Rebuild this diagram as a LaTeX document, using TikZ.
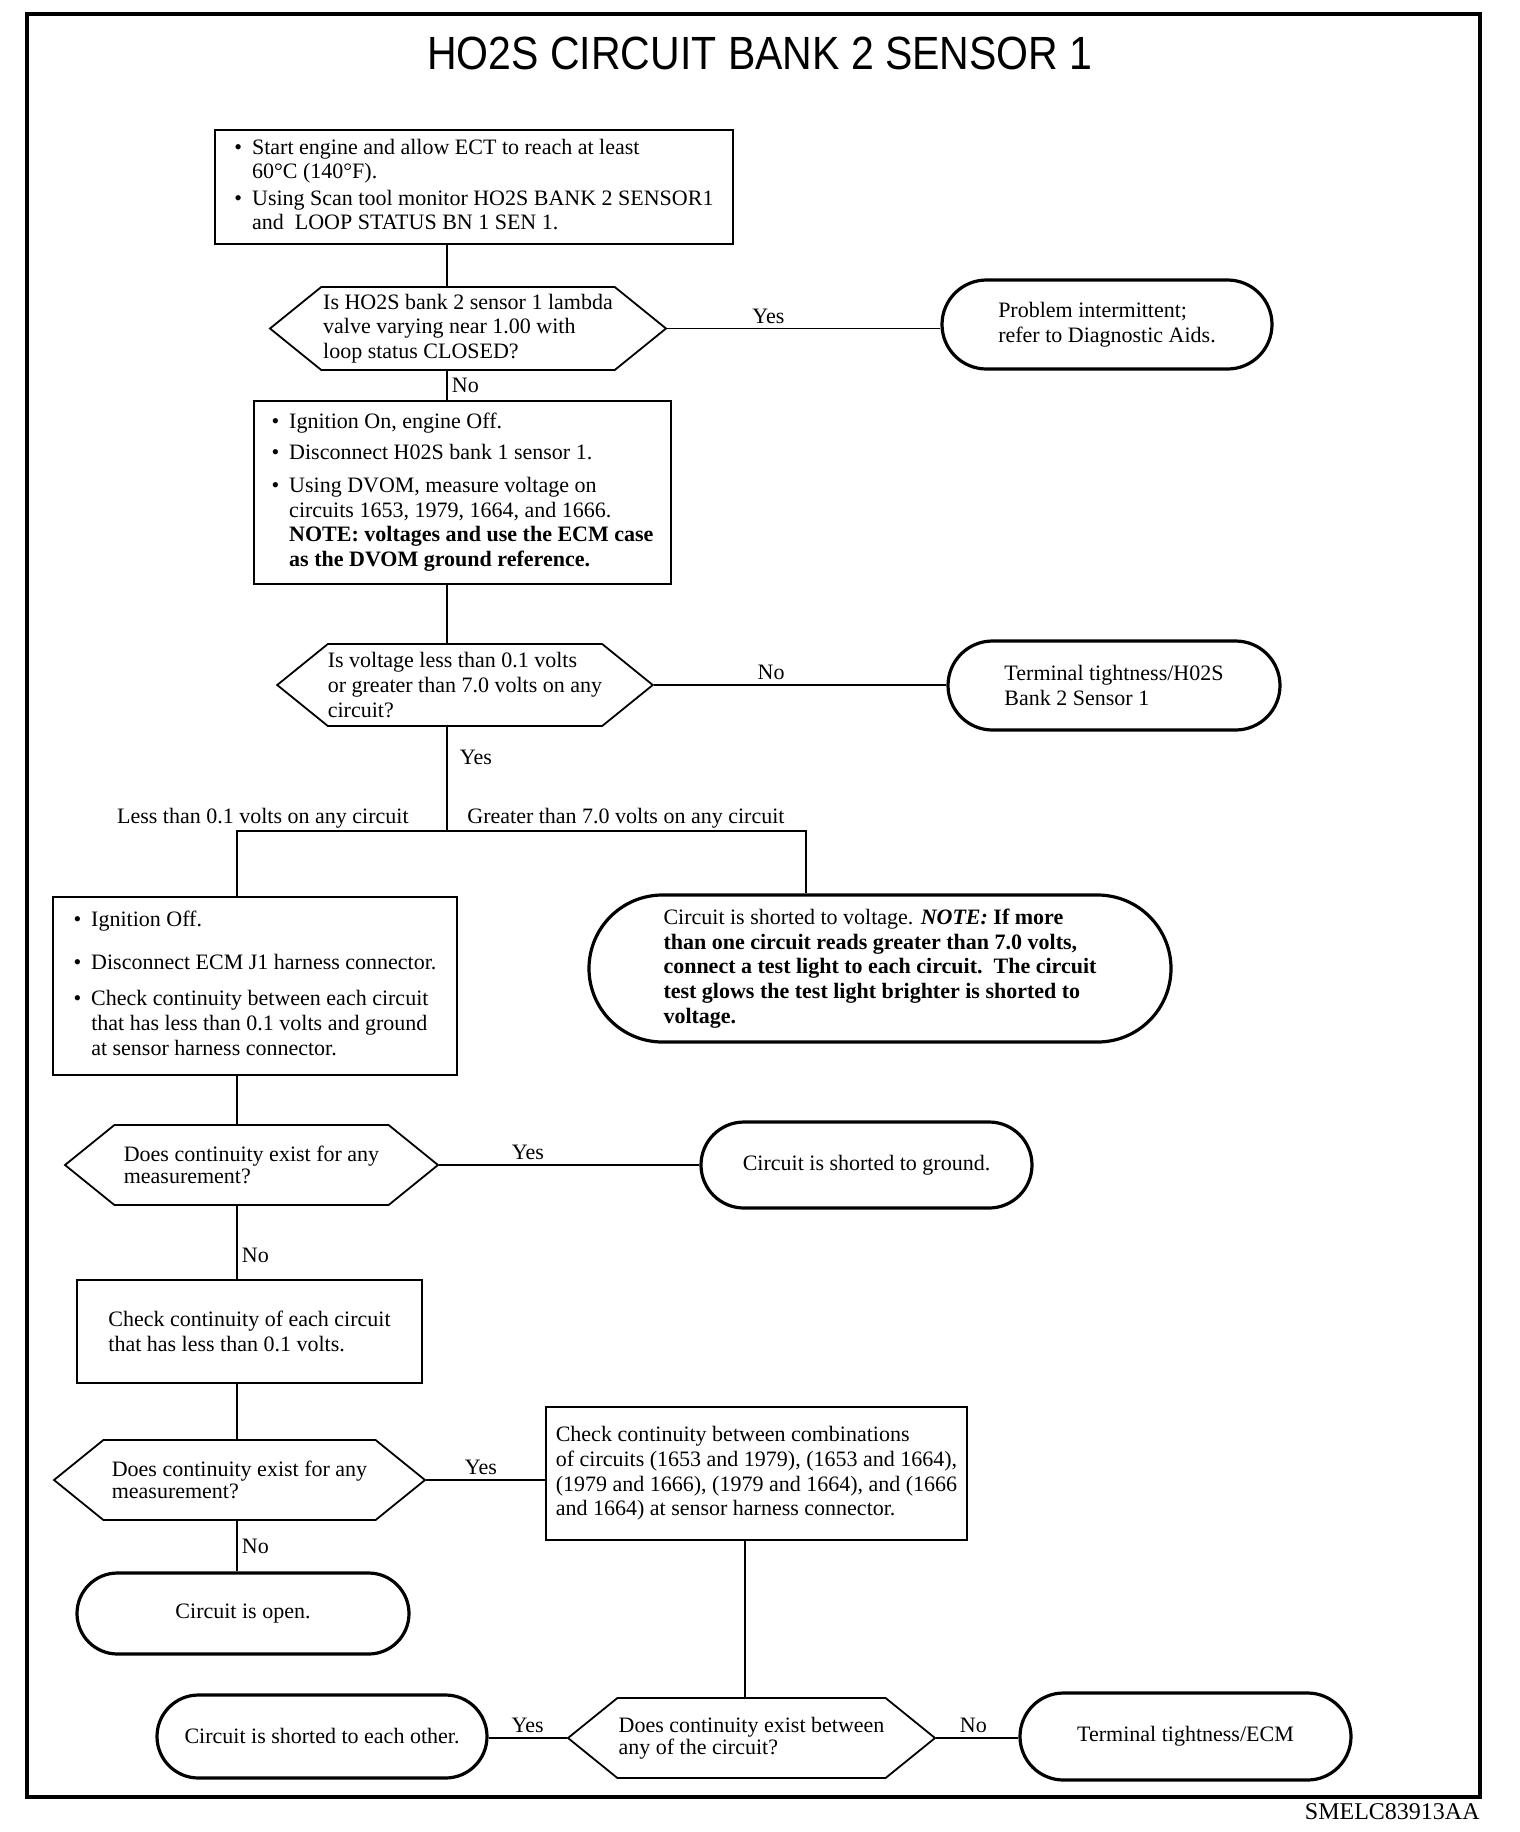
\documentclass[tikz,border=0pt]{standalone}
\usepackage{fontspec}
\setmainfont{Liberation Serif}
\newfontfamily\titlefont[FakeStretch=0.88]{Liberation Sans}
\usetikzlibrary{shapes.symbols,shapes.misc}

% bullet list inside a box
\newcommand{\blist}[1]{\begin{tabular}{@{}l@{\hspace{5pt}}l@{}}#1\end{tabular}}

\tikzset{
  stepbox/.style={draw, line width=1pt, rectangle, align=left, inner sep=0pt},
  query/.style={draw, line width=0.9pt, signal, signal to=east and west, signal pointer angle=78, align=left, inner sep=0pt},
  outcome/.style={draw, line width=1.6pt, rounded rectangle, align=left, inner sep=0pt},
  link/.style={line width=0.9pt},
  lbl/.style={inner sep=2pt}
}

\begin{document}
\begin{tikzpicture}[x=0.5pt, y=-0.5pt, every node/.style={font=\fontsize{11}{12.3}\selectfont}]
        \useasboundingbox (0,0) rectangle (1520,1832);

        % Frame, title and code
        \draw[line width=2pt] (27,14) rectangle (1480,1797);
        \node[font=\titlefont\fontsize{23.3}{28}\selectfont] (title) at (760,53) {HO2S CIRCUIT BANK 2 SENSOR 1};
        \node[anchor=base east, inner sep=0pt, font=\fontsize{12}{14}\selectfont] (code) at (1480,1819) {SMELC83913AA};

        % Columns of the connectors
        \coordinate (colA) at (447,0);
        \coordinate (colB) at (237,0);
        \coordinate (colC) at (745,0);
        \coordinate (colD) at (806,0);
        \coordinate (split) at (447,831);

        % Steps
        \node[stepbox, minimum width=259pt, minimum height=57pt] (b1) at (474,187) {\blist{%
          \textbullet & Start engine and allow ECT to reach at least\\
                      & 60°C (140°F).\\[1pt]
          \textbullet & Using Scan tool monitor HO2S BANK 2 SENSOR1\\
                      & and\ \ LOOP STATUS BN 1 SEN 1.}};
        \node[stepbox, minimum width=208.5pt, minimum height=91.5pt] (b2) at (462.5,492.5) {\blist{%
          \textbullet & Ignition On, engine Off.\\[3pt]
          \textbullet & Disconnect H02S bank 1 sensor 1.\\[4.5pt]
          \textbullet & Using DVOM, measure voltage on\\
                      & circuits 1653, 1979, 1664, and 1666.\\
                      & \textbf{NOTE: voltages and use the ECM case}\\
                      & \textbf{as the DVOM ground reference.}}};
        \node[stepbox, minimum width=202pt, minimum height=89pt] (b3) at (255,986) {\blist{%
          \textbullet & Ignition Off.\\[9pt]
          \textbullet & Disconnect ECM J1 harness connector.\\[6pt]
          \textbullet & Check continuity between each circuit\\
                      & that has less than 0.1 volts and ground\\
                      & at sensor harness connector.}};
        \node[stepbox, minimum width=172.5pt, minimum height=51.5pt] (b4) at (249.5,1331.5) {Check continuity of each circuit\\that has less than 0.1 volts.};
        \node[stepbox, minimum width=210.5pt, minimum height=66.5pt] (b5) at (756.5,1473.5) {Check continuity between combinations\\of circuits (1653 and 1979), (1653 and 1664),\\(1979 and 1666), (1979 and 1664), and (1666\\and 1664) at sensor harness connector.};

        % Questions
        \node[query, minimum width=198pt, minimum height=41.5pt] (h1) at (468,328.5) {Is HO2S bank 2 sensor 1 lambda\\valve varying near 1.00 with\\loop status CLOSED?};
        \node[query, minimum width=186pt, minimum height=41pt] (h2) at (465,685) {Is voltage less than 0.1 volts\\or greater than 7.0 volts on any\\circuit?};
        \node[query, minimum width=186.5pt, minimum height=40pt] (h3) at (251.5,1165) {Does continuity exist for any\\[-1.5pt]measurement?};
        \node[query, minimum width=185.5pt, minimum height=40pt] (h4) at (239.5,1480) {Does continuity exist for any\\[-1.5pt]measurement?};
        \node[query, minimum width=183.5pt, minimum height=40pt] (h5) at (751.5,1738) {Does continuity exist between\\[-1.5pt]any of the circuit?};

        % Outcomes
        \node[outcome, minimum width=165pt, minimum height=44.5pt] (o1) at (1107,324.5) {Problem intermittent;\\refer to Diagnostic Aids.};
        \node[outcome, minimum width=166pt, minimum height=44.5pt] (o2) at (1114,685.5) {Terminal tightness/H02S\\Bank 2 Sensor 1};
        \node[outcome, minimum width=291pt, minimum height=73.5pt] (o3) at (880,968.5) {Circuit is shorted to voltage. \textbf{\textit{NOTE:} If more}\\
          \textbf{than one circuit reads greater than 7.0 volts,}\\
          \textbf{connect a test light to each circuit.\ \ The circuit}\\
          \textbf{test glows the test light brighter is shorted to}\\
          \textbf{voltage.}};
        \node[outcome, minimum width=165.5pt, minimum height=43pt] (o4) at (866.5,1165) {Circuit is shorted to ground.};
        \node[outcome, minimum width=166pt, minimum height=40.5pt] (o5) at (243,1613.5) {Circuit is open.};
        \node[outcome, minimum width=165pt, minimum height=41.5pt] (o6) at (322,1736.5) {Circuit is shorted to each other.};
        \node[outcome, minimum width=165.5pt, minimum height=43.5pt] (o7) at (1185.5,1736.5) {Terminal tightness/ECM};

        % Connectors
        \draw[link] (b1.south -| colA) -- (h1.north -| colA);
        \draw[link] (h1.east) -- (h1.east -| o1.west) node[lbl, above, pos=0.37] {Yes};
        \draw[link] (h1.south -| colA) -- (b2.north -| colA) node[lbl, right, midway] {No};
        \draw[link] (b2.south -| colA) -- (h2.north -| colA);
        \draw[link] (h2.east) -- (h2.east -| o2.west) node[lbl, above, pos=0.4] {No};
        \draw[link] (h2.south -| colA) -- (split) node[lbl, right, pos=0.29, xshift=4pt] {Yes};
        \draw[link] (b3.north -| colB) |- (split) -| (o3.north -| colD);
        \node[lbl, anchor=base east] (lessLbl) at (413,823) {Less than 0.1 volts on any circuit};
        \node[lbl, anchor=base west] (moreLbl) at (463,823) {Greater than 7.0 volts on any circuit};
        \draw[link] (b3.south -| colB) -- (h3.north -| colB);
        \draw[link] (h3.east) -- (h3.east -| o4.west) node[lbl, above, pos=0.34] {Yes};
        \draw[link] (h3.south -| colB) -- (b4.north -| colB) node[lbl, right, pos=0.68] {No};
        \draw[link] (b4.south -| colB) -- (h4.north -| colB);
        \draw[link] (h4.east) -- (h4.east -| b5.west) node[lbl, above, pos=0.46] {Yes};
        \draw[link] (h4.south -| colB) -- (o5.north -| colB) node[lbl, right, midway] {No};
        \draw[link] (b5.south -| colC) -- (h5.north -| colC);
        \draw[link] (h5.west) -- (h5.west -| o6.east) node[lbl, above, midway] {Yes};
        \draw[link] (h5.east) -- (h5.east -| o7.west) node[lbl, above, pos=0.45] {No};
\end{tikzpicture}
\end{document}
